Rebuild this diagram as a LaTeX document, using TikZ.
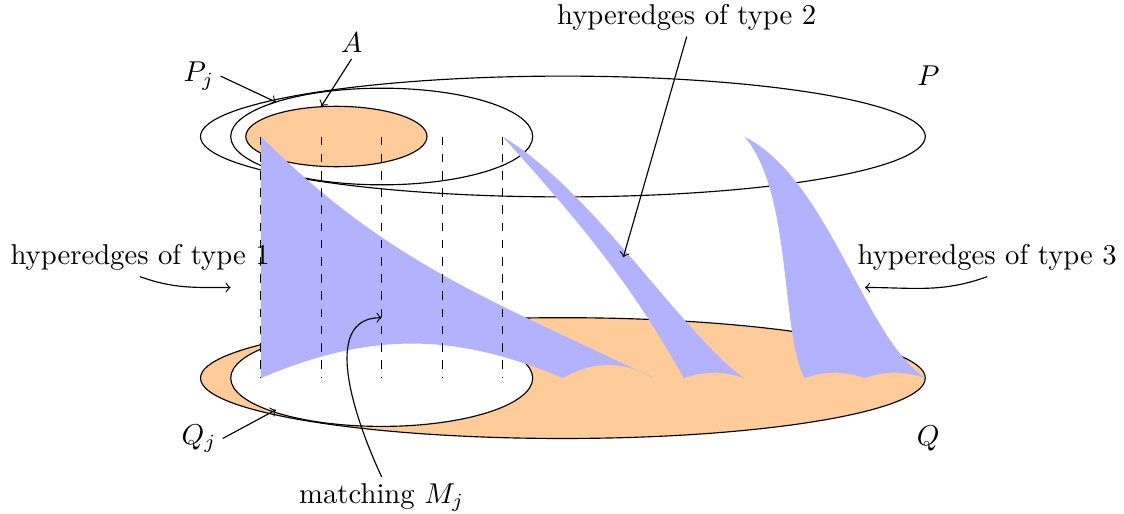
\documentclass[tikz,border=0pt]{standalone}
\usepackage{tikz}

\begin{document}
\begin{tikzpicture}[x=0.37cm, y=0.37cm,
  side/.style={draw, fill=orange!40},
  hole/.style={draw, fill=white},
  hyper/.style={fill=blue!30},
  strand/.style={dashed},
  pointer/.style={->},
  tag/.style={inner sep=2pt}
]
\useasboundingbox (-18.64,-4.5) rectangle (18.58,12.52);

% ---- Q side ----
\path[side] (0,0) ellipse (12 and 2);
\path[hole] (-6,0) ellipse (5 and 1.6);

% ---- P side ----
\draw (0,8) ellipse (12 and 2);
\draw (-6,8) ellipse (5 and 1.6);
\path[side] (-7.5,8) ellipse (3 and 1);

% ---- hyperedges ----
% type 1
\fill[hyper] (3,0) .. controls (-2.4,2.6) and (-5.8,3.8) .. (-10,8)
  -- (-10,0) to[bend left=23] (0,0) to[bend left=30] (3,0) -- cycle;
% type 2
\fill[hyper] (-2,8) .. controls (1,6.2) and (4,1.4) .. (6,0)
  to[bend right=18] (4,0) .. controls (2.5,2.7) and (1,4.7) .. (-2,8) -- cycle;
% type 3
\fill[hyper] (6,8) .. controls (8.8,6.6) and (10,1.3) .. (12,0)
  to[bend right=18] (10,0) to[bend right=18] (8,0)
  .. controls (7.2,1.5) and (7.6,6.2) .. (6,8) -- cycle;

% matching M_j
\foreach \x in {-10,-8,...,-2}
  \draw[strand] (\x,8) -- (\x,0);

% points the labels aim at
\coordinate (pjRim) at (-9.5,9.14);
\coordinate (aRim) at (-8,9);
\coordinate (qjRim) at (-9.5,-1.05);
\coordinate (oneIn) at (-11,3);
\coordinate (twoIn) at (2,4);
\coordinate (threeIn) at (10,3);
\coordinate (mjIn) at (-6,2);

% ---- labels ----
\node[tag] (pLbl) at (12.1,10) {$P$};
\node[tag] (qLbl) at (12.1,-2) {$Q$};
\node[tag] (pjLbl) at (-12.05,10) {$P_j$};
\node[tag] (aLbl) at (-7,11.1) {$A$};
\node[tag] (qjLbl) at (-12.05,-2) {$Q_j$};
\node[tag] (oneLbl) at (-14,4) {hyperedges of type 1};
\node[tag] (twoLbl) at (4.1,11.95) {hyperedges of type 2};
\node[tag] (threeLbl) at (14.05,4) {hyperedges of type 3};
\node[tag] (mjLbl) at (-6,-3.95) {matching $M_j$};

\draw[pointer] (pjLbl.east) -- (pjRim);
\draw[pointer] (aLbl.south) -- (aRim);
\draw[pointer] (qjLbl.east) -- (qjRim);
\draw[pointer] (twoLbl.south) -- (twoIn);
\draw[pointer] (oneLbl.south) to[out=-20, in=180] (oneIn);
\draw[pointer] (threeLbl.south) to[out=200, in=0] (threeIn);
\draw[pointer] (mjLbl.north) to[out=115, in=180] (mjIn);

\end{tikzpicture}
\end{document}
